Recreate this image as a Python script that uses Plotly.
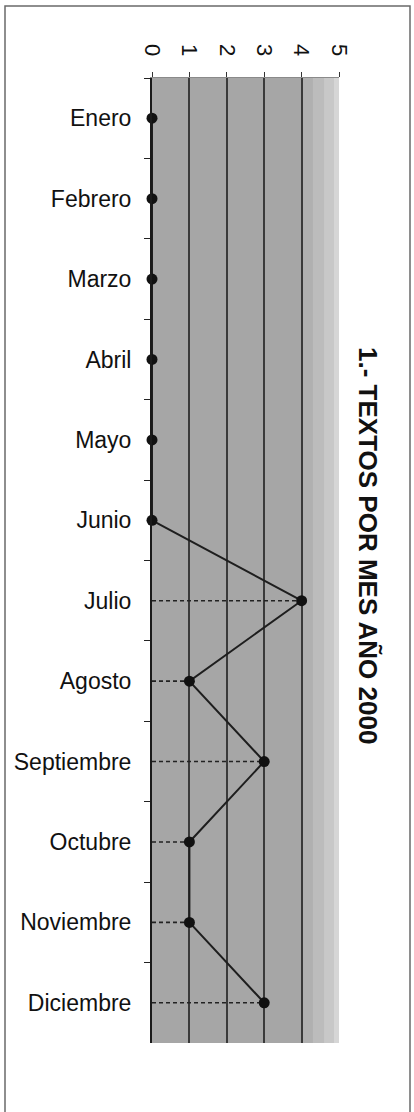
import plotly.graph_objects as go

months = ["Enero", "Febrero", "Marzo", "Abril", "Mayo", "Junio", "Julio",
          "Agosto", "Septiembre", "Octubre", "Noviembre", "Diciembre"]
textos = [0, 0, 0, 0, 0, 0, 4, 1, 3, 1, 1, 3]
x_ticks = [0, 1, 2, 3, 4, 5]
title_text = "1.- TEXTOS POR MES AÑO 2000"

W, H = 414, 1112
L, R, T, B = 152, 75, 78, 69
pw = W - L - R
ph = H - T - B

def px_x(p):
    return (p - L) / pw

def px_y(p):
    return (H - B - p) / ph

fig = go.Figure()

# dashed drop lines from the axis to each non-zero point
dx, dy = [], []
for m, v in zip(months, textos):
    if v > 0:
        dx += [0, v, None]
        dy += [m, m, None]
fig.add_trace(go.Scatter(x=dx, y=dy, mode="lines",
                         line=dict(color="#222222", width=1.6, dash="4px,3px"),
                         hoverinfo="skip", showlegend=False))

fig.add_trace(go.Scatter(x=textos, y=months, mode="lines+markers",
                         line=dict(color="#1e1e1e", width=2),
                         marker=dict(color="#111111", size=11),
                         showlegend=False, cliponaxis=False))

shapes = []
# background shading of the plot area (light band at the right)
bands = [(0, 4.0, "#a6a6a6"), (4.0, 4.3, "#b0b0b0"), (4.3, 4.6, "#bcbcbc"),
         (4.6, 4.85, "#c8c8c8"), (4.85, 5, "#d6d6d6")]
for a, b, c in bands:
    shapes.append(dict(type="rect", xref="x", yref="paper", x0=a, x1=b, y0=0, y1=1,
                       fillcolor=c, line=dict(width=0), layer="below"))
# outer frame
shapes.append(dict(type="rect", xref="paper", yref="paper",
                   x0=px_x(5), x1=px_x(410), y0=px_y(6), y1=px_y(1116),
                   line=dict(color="#6a6a6a", width=1.5), fillcolor="rgba(0,0,0,0)"))

fig.update_layout(
    width=W, height=H,
    margin=dict(l=L, r=R, t=T, b=B, pad=0),
    paper_bgcolor="white", plot_bgcolor="#a6a6a6",
    font=dict(family="Liberation Sans, Arial, sans-serif", color="#111111"),
    shapes=shapes,
    hovermode=False,
    annotations=[dict(text=title_text, xref="paper", yref="paper",
                      x=px_x(385), y=px_y(545), textangle=90, showarrow=False,
                      font=dict(size=26, family="Liberation Sans, Arial, sans-serif",
                                color="#111111", weight="bold"))],
)

fig.update_xaxes(side="top", range=[0, 5], tickvals=x_ticks,
                 ticktext=[str(v) for v in x_ticks], tickangle=90,
                 tickfont=dict(size=22), ticks="outside", ticklen=5,
                 tickcolor="#333333", showgrid=True, gridcolor="#3a3a3a",
                 gridwidth=1.5, zeroline=False, showline=True,
                 linecolor="#8a8a8a", linewidth=1, ticklabelstandoff=8)

fig.update_yaxes(type="category", categoryorder="array", categoryarray=months,
                 range=[11.5, -0.5], tickson="boundaries", ticks="outside",
                 ticklen=6, tickcolor="#222222", showgrid=False, zeroline=False,
                 showline=True, linecolor="#1a1a1a", linewidth=2,
                 tickfont=dict(size=23), ticklabelstandoff=14)

fig.write_html("out.html",
               config={"displayModeBar": False},
               post_script="document.body.style.margin='0';"
                           "document.body.style.overflow='hidden';")
